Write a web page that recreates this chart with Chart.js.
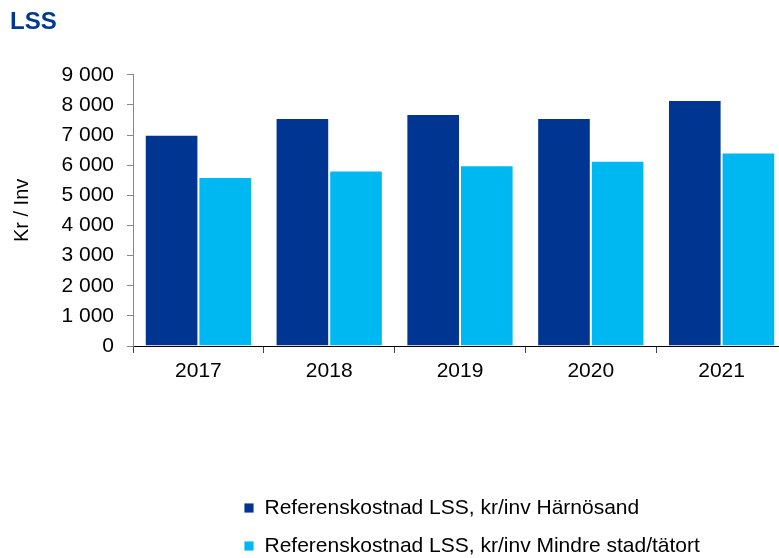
<!DOCTYPE html>
<html>
<head>
<meta charset="utf-8">
<script src="https://cdn.jsdelivr.net/npm/chart.js@4/dist/chart.umd.min.js"></script>
<style>
  html, body { margin: 0; padding: 0; background: #fff; overflow: hidden; }
  canvas { display: block; }
</style>
</head>
<body>
<canvas id="lss-chart" width="790" height="558"></canvas>
<script>
const years = ["2017", "2018", "2019", "2020", "2021"];
const harnosand = [7010, 7570, 7700, 7570, 8160];
const mindreStad = [5610, 5820, 6000, 6150, 6420];
const seriesNames = [
  "Referenskostnad LSS, kr/inv Härnösand",
  "Referenskostnad LSS, kr/inv Mindre stad/tätort"
];
const yTicks = [0, 1000, 2000, 3000, 4000, 5000, 6000, 7000, 8000, 9000];

const FONT = "'Liberation Sans', Arial, sans-serif";

// move the title and the legend rows to where the reference has them
const boxPlace = {
  id: "boxPlace",
  afterLayout(chart) {
    chart.titleBlock.left = 10;
    chart.legend.left = 227;
    chart.legend.top = 480.5;
  }
};

new Chart(document.getElementById("lss-chart"), {
  type: "bar",
  data: {
    labels: years,
    datasets: [
      {
        label: seriesNames[0],
        data: harnosand,
        backgroundColor: "#003591",
        borderColor: "rgba(255,255,255,0.85)",
        borderWidth: 1
      },
      {
        label: seriesNames[1],
        data: mindreStad,
        backgroundColor: "#00B8F1",
        borderColor: "rgba(255,255,255,0.85)",
        borderWidth: 1
      }
    ]
  },
  options: {
    responsive: false,
    animation: false,
    layout: { padding: { left: 0, right: 3, top: 0, bottom: 0 } },
    datasets: { bar: { categoryPercentage: 0.82, barPercentage: 1.0 } },
    scales: {
      x: {
        grid: { drawOnChartArea: false, drawTicks: true, tickLength: 7, color: "#444" },
        border: { display: true, color: "#000", width: 1 },
        ticks: { color: "#000", font: { family: FONT, size: 21 }, padding: 6 },
        afterFit(s) { s.height = 558 - 346 - s.chart.legend.height; }
      },
      y: {
        min: 0,
        max: 9000,
        afterBuildTicks(s) { s.ticks = yTicks.map(v => ({ value: v })); },
        afterFit(s) { s.width = 133; },
        grid: { drawOnChartArea: false, drawTicks: true, tickLength: 6, color: "#888" },
        border: { display: true, color: "#888", width: 1 },
        ticks: {
          color: "#000",
          font: { family: FONT, size: 21 },
          padding: 13,
          callback: v => String(v).replace(/\B(?=(\d{3})+(?!\d))/g, " ")
        },
        title: {
          display: true,
          text: "Kr / Inv",
          color: "#000",
          font: { family: FONT, size: 20 },
          padding: { top: 10, bottom: 0 }
        }
      }
    },
    plugins: {
      title: {
        display: true,
        text: "LSS",
        align: "start",
        color: "#003A8F",
        font: { family: FONT, size: 24, weight: "bold" },
        padding: { top: 8, bottom: 38 }
      },
      legend: {
        position: "bottom",
        align: "start",
        labels: {
          color: "#000",
          font: { family: FONT, size: 21 },
          boxWidth: 10,
          boxHeight: 10,
          padding: 17
        }
      },
      tooltip: { enabled: false }
    }
  },
  plugins: [boxPlace]
});
</script>
</body>
</html>
